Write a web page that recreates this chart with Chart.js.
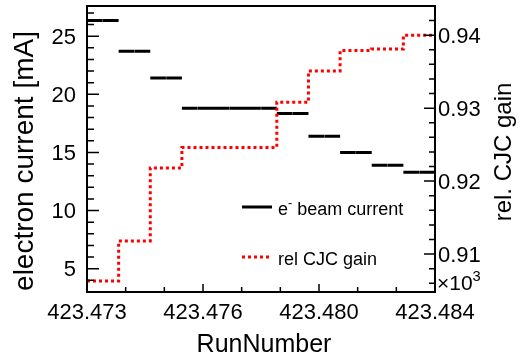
<!DOCTYPE html>
<html>
<head>
<meta charset="utf-8">
<script src="https://cdn.jsdelivr.net/npm/chart.js@4"></script>
<style>
  body { margin: 0; background: #fff; }
  canvas { display: block; }
</style>
</head>
<body>
<canvas id="myChart" width="520" height="357"></canvas>
<script>
const runs = [423473, 423474, 423475, 423476, 423477, 423478, 423479, 423480, 423481, 423482, 423483];
const beamCurrent = [26.35, 23.7, 21.4, 18.8, 18.8, 18.8, 18.35, 16.4, 15.0, 13.9, 13.3];
const cjcGain = [0.9063, 0.9118, 0.9218, 0.9246, 0.9246, 0.9246, 0.9308, 0.9351, 0.9379, 0.9381, 0.9400];

const xTickLabels = ['423.473', '423.476', '423.480', '423.484'];
const currentTicks = [5, 10, 15, 20, 25];
const gainTicks = [0.91, 0.92, 0.93, 0.94];
const gainTickLabels = ['0.91', '0.92', '0.93', '0.94'];

const FONT = '"Liberation Sans", Arial, sans-serif';
const chartContext = document.getElementById('myChart').getContext('2d');

// histogram-like points: each run spans +-0.5, tiny gap at the bin centre
const currentPoints = [];
runs.forEach((r, i) => {
  const v = beamCurrent[i];
  currentPoints.push({ x: r - 0.5, y: v }, { x: r - 0.005, y: v }, { x: r, y: null },
    { x: r + 0.005, y: v }, { x: r + 0.5, y: v }, { x: r + 0.5, y: null });
});

const gainPoints = [];
runs.forEach((r, i) => {
  gainPoints.push({ x: r - 0.5, y: cjcGain[i] }, { x: r + 0.5, y: cjcGain[i] });
});

// draws text with ROOT style ^{...} superscripts, left aligned
function rootText(ctx, text, x, y, size) {
  const parts = text.split(/\^\{([^}]*)\}/);
  parts.forEach((p, i) => {
    if (!p) return;
    if (i % 2 === 1) {
      ctx.font = `${size * 0.7}px ${FONT}`;
      ctx.fillText(p, x, y - size * 0.45);
    } else {
      ctx.font = `${size}px ${FONT}`;
      ctx.fillText(p, x, y);
    }
    x += ctx.measureText(p).width;
  });
}

const rootAxes = {
  id: 'rootAxes',
  afterDatasetsDraw(chart) {
    const { ctx, chartArea: a, scales } = chart;
    const xs = scales.x, yl = scales.y, yr = scales.y1;
    ctx.save();
    ctx.strokeStyle = '#000';
    ctx.fillStyle = '#000';
    ctx.lineWidth = 2;
    ctx.strokeRect(a.left, a.top, a.right - a.left, a.bottom - a.top);

    ctx.lineWidth = 1.5;
    ctx.beginPath();
    // x ticks, 3 divisions with 3 minor each
    for (let k = 0; k <= 9; k++) {
      const px = xs.getPixelForValue(xs.min + k * (xs.max - xs.min) / 9);
      const len = k % 3 === 0 ? 8 : 5;
      ctx.moveTo(px, a.bottom);
      ctx.lineTo(px, a.bottom - len);
    }
    for (let v = 3; v <= 27; v++) {
      const py = yl.getPixelForValue(v);
      const len = v % 5 === 0 ? 12 : 7;
      ctx.moveTo(a.left, py);
      ctx.lineTo(a.left + len, py);
    }
    for (let k = 453; k <= 471; k++) {
      const py = yr.getPixelForValue(k * 0.002);
      const len = k % 5 === 0 ? 11 : 6;
      ctx.moveTo(a.right, py);
      ctx.lineTo(a.right - len, py);
    }
    ctx.stroke();

    ctx.font = `22px ${FONT}`;
    ctx.textBaseline = 'alphabetic';
    ctx.textAlign = 'right';
    currentTicks.forEach(v => ctx.fillText(String(v), 76, yl.getPixelForValue(v) + 7.5));
    ctx.textAlign = 'left';
    gainTicks.forEach((v, i) => ctx.fillText(gainTickLabels[i], 438, yr.getPixelForValue(v) + 7.5));
    ctx.textAlign = 'center';
    xTickLabels.forEach((t, k) => {
      ctx.fillText(t, xs.getPixelForValue(xs.min + k * (xs.max - xs.min) / 3), 319);
    });

    ctx.font = `25px ${FONT}`;
    ctx.fillText('RunNumber', 264, 352);

    ctx.save();
    ctx.translate(33, 161);
    ctx.rotate(-Math.PI / 2);
    ctx.font = `28px ${FONT}`;
    ctx.fillText('electron current [mA]', 0, 0);
    ctx.restore();

    ctx.save();
    ctx.translate(511, 152);
    ctx.rotate(-Math.PI / 2);
    ctx.font = `24px ${FONT}`;
    ctx.fillText('rel. CJC gain', 0, 0);
    ctx.restore();

    ctx.textAlign = 'left';
    rootText(ctx, '\u00d710^{3}', 437, 290, 21);

    // legend
    const rows = [{ ds: chart.data.datasets[1], y: 207 }, { ds: chart.data.datasets[0], y: 257 }];
    rows.forEach(row => {
      ctx.save();
      ctx.strokeStyle = row.ds.borderColor;
      ctx.lineWidth = 3;
      ctx.setLineDash(row.ds.borderDash || []);
      ctx.beginPath();
      ctx.moveTo(242, row.y);
      ctx.lineTo(272, row.y);
      ctx.stroke();
      ctx.restore();
      ctx.fillStyle = '#000';
      rootText(ctx, row.ds.label, 278, row.y + 8, 18);
    });
    ctx.restore();
  }
};

const chart = new Chart(chartContext, {
  type: 'line',
  data: {
    datasets: [{
      label: 'rel CJC gain',
      data: gainPoints,
      yAxisID: 'y1',
      borderColor: '#ff0000',
      borderWidth: 3,
      borderDash: [3, 3],
      pointRadius: 0,
      fill: false,
      order: 0
    }, {
      label: 'e^{-} beam current',
      data: currentPoints,
      yAxisID: 'y',
      borderColor: '#000000',
      borderWidth: 3,
      pointRadius: 0,
      fill: false,
      spanGaps: false,
      order: 1
    }]
  },
  options: {
    responsive: false,
    animation: false,
    layout: { padding: { left: 87, right: 85, top: 6, bottom: 65 } },
    plugins: { legend: { display: false }, tooltip: { enabled: false } },
    scales: {
      x: { type: 'linear', min: 423472.5, max: 423483.5, display: false },
      y: { min: 3, max: 27.6, display: false },
      y1: { min: 0.9048, max: 0.944, position: 'right', display: false }
    }
  },
  plugins: [rootAxes]
});
</script>
</body>
</html>
